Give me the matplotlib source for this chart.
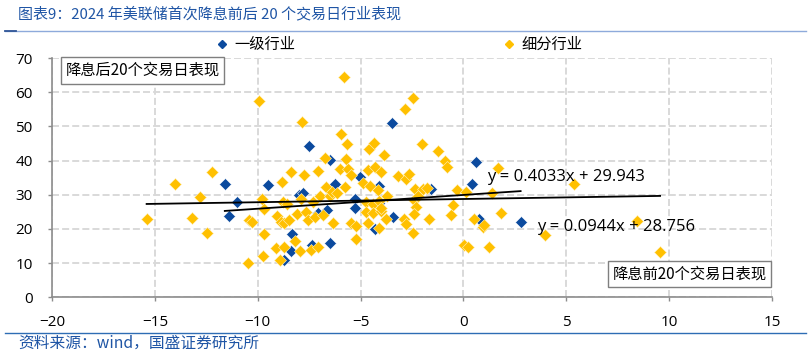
import matplotlib
matplotlib.use("Agg")
import matplotlib.pyplot as plt
import numpy as np
from matplotlib.lines import Line2D

# ---------------- data ----------------
title = "图表9：2024 年美联储首次降息前后 20 个交易日行业表现"
source = "资料来源：wind，国盛证券研究所"
series_names = ["一级行业", "细分行业"]
box_after = "降息后20个交易日表现"
box_before = "降息前20个交易日表现"

level1_x = [-11.6, -11.0, -11.4, -9.5, -8.0, -7.8, -7.5, -6.5, -6.25, -6.65, -7.05, -8.35,
            -8.4, -8.7, -6.5, -7.35, -3.45, -5.05, -4.12, -5.28, -5.25, -3.4, -4.3, -4.08,
            0.62, 0.4, 2.78, 0.78, -1.57]
level1_y = [33.1, 28.0, 23.8, 32.9, 29.9, 30.6, 44.3, 40.1, 33.0, 25.6, 24.7, 18.5,
            13.5, 10.9, 16.0, 15.3, 51.0, 35.3, 32.5, 28.9, 26.1, 23.6, 20.0, 27.7,
            39.6, 33.0, 22.1, 23.0, 31.6]

sub_x = [-15.4, -14.0, -13.2, -12.8, -12.45, -12.2, -10.4, -10.3, -10.47, -9.95,
         -9.8, -9.7, -9.7, -9.74, -9.1, -9.05, -8.93, -8.82, -8.77, -8.6, -8.85, -8.7, -8.5,
         -8.7, -8.4, -8.17, -8.07, -7.96, -7.88, -7.83, -7.75, -7.63, -7.55,
         -7.39, -7.32, -7.23, -7.07, -7.07, -6.99, -6.83, -6.75, -6.7, -6.5, -6.4, -6.34,
         -6.13, -6.02, -5.97, -5.8, -5.78, -5.65, -5.7, -5.6, -5.45, -5.45, -5.2, -5.24,
         -4.89, -4.72, -4.72, -4.64, -4.64, -4.6, -4.56, -4.42, -4.4, -4.35, -4.32, -4.16,
         -4.1, -4.11, -4.03, -3.99, -3.99, -3.86, -3.75, -3.7, -3.2, -2.87, -2.85, -2.8,
         -2.79, -2.64, -2.46, -2.46,
         -2.38, -2.34, -2.3, -2.4, -2.22, -2.0, -1.97, -1.76, -1.65, -1.25, -0.92, -0.81,
         -0.52, -0.6, -0.33,
         0.05, 0.2, 0.12, 0.53, 0.94, 1.02, 1.22, 1.39, 1.67, 1.82, 3.95, 5.39, 8.43, 9.56]
sub_y = [23.0, 33.0, 23.2, 29.4, 18.9, 36.6, 22.5, 21.9, 10.1, 57.4,
         28.9, 25.7, 18.6, 12.1, 14.4, 23.8, 10.9, 33.8, 28.0, 27.4, 22.1, 21.6, 22.6,
         14.8, 36.7, 16.5, 24.4, 13.6, 28.7, 51.2, 35.8, 25.0, 22.6,
         13.7, 27.8, 23.6, 14.8, 37.0, 29.6, 24.1, 40.8, 32.2, 29.6, 30.9, 21.8,
         30.4, 37.5, 47.8, 64.3, 32.3, 44.8, 40.6, 37.4, 35.8, 21.6, 21.0, 17.2,
         33.3, 28.0, 25.0, 37.2, 21.8, 43.5, 32.5, 27.2, 24.6, 45.1, 38.2, 31.4,
         28.3, 20.2, 25.2, 26.0, 36.7, 41.6, 22.8, 29.6, 35.4, 22.8, 55.0, 34.7,
         21.5, 36.2, 58.2, 18.9,
         28.4, 31.6, 26.3, 24.5, 29.6, 44.8, 31.6, 31.9, 22.8, 42.9, 39.9, 38.2,
         26.9, 24.0, 31.4,
         15.3, 14.8, 30.9, 22.8, 20.6, 21.1, 14.8, 30.6, 37.7, 24.7, 18.2, 33.0, 22.4, 13.3]

# trend line coefficients as printed on the chart
level1_fit = (0.4033, 29.943)
sub_fit = (0.0944, 28.756)

x_ticks = [-20, -15, -10, -5, 0, 5, 10, 15]
y_ticks = [0, 10, 20, 30, 40, 50, 60, 70]

# ---------------- style ----------------
BLUE = "#0B4A9E"
YELLOW = "#FFC000"
CJK = ["Noto Sans CJK SC", "DejaVu Sans"]
NUM = ["Open Sans", "DejaVu Sans"]
W, H = 811, 355

fig = plt.figure(figsize=(W / 100, H / 100), dpi=100)
ax = fig.add_axes([52 / W, 1 - 297.3 / H, (772 - 52) / W, (297.3 - 58) / H])

ax.set_xlim(x_ticks[0], x_ticks[-1])
ax.set_ylim(y_ticks[0], y_ticks[-1])
ax.set_xticks(x_ticks)
ax.set_yticks(y_ticks)
ax.grid(True, color="#D9D9D9", lw=1.4, linestyle=(0, (3.6, 1.6)))
ax.set_axisbelow(True)
for s in ["top", "right"]:
    ax.spines[s].set_visible(False)
for s in ["left", "bottom"]:
    ax.spines[s].set_color("#8C8C8C")
    ax.spines[s].set_linewidth(1.2)
ax.tick_params(axis="both", length=3, color="#8C8C8C", width=1.0)
ax.tick_params(axis="y", pad=11)
ax.tick_params(axis="x", pad=10)
for lab in ax.get_xticklabels() + ax.get_yticklabels():
    lab.set_fontfamily(NUM)
    lab.set_fontsize(11)
    lab.set_color("#000000")

ms = 5.9
ax.plot(level1_x, level1_y, linestyle="none", marker="D", ms=ms, mfc=BLUE,
        mec="white", mew=0.4, zorder=3)
ax.plot(sub_x, sub_y, linestyle="none", marker="D", ms=ms, mfc=YELLOW,
        mec="#FFF2C0", mew=0.4, zorder=3)

# trend lines over each series' x range
for xs, (k, b) in [(sub_x, sub_fit), (level1_x, level1_fit)]:
    xx = np.array([min(xs), max(xs)])
    ax.plot(xx, k * xx + b, color="black", lw=1.3, zorder=4)

ax.text(1.17, 35.3, f"y = {level1_fit[0]}x + {level1_fit[1]}", fontsize=12,
        family=NUM, va="center", ha="left", zorder=5)
ax.text(3.56, 20.6, f"y = {sub_fit[0]}x + {sub_fit[1]}", fontsize=12,
        family=NUM, va="center", ha="left", zorder=5)

# boxed labels
bbox = dict(boxstyle="square,pad=0.32", fc="white", ec="#7F7F7F", lw=1.0)
fig.text(142.5 / W, 1 - 70.5 / H, box_after, fontsize=11, family=CJK,
         ha="center", va="center", bbox=bbox, zorder=6)
fig.text(689.5 / W, 1 - 274 / H, box_before, fontsize=11, family=CJK,
         ha="center", va="center", bbox=bbox, zorder=6)

# legend
handles = [Line2D([], [], linestyle="none", marker="D", ms=4.2, mfc=BLUE, mec=BLUE),
           Line2D([], [], linestyle="none", marker="D", ms=4.2, mfc=YELLOW, mec=YELLOW)]
leg = fig.legend(handles, series_names, loc="center left",
                 bbox_to_anchor=(216 / W, 1 - 44.5 / H), ncol=2, frameon=False,
                 handlelength=0.8, handletextpad=0.4, columnspacing=13.6,
                 prop={"family": CJK, "size": 11}, borderaxespad=0, borderpad=0)

# title, rules, source
fig.text(18 / W, 1 - 14 / H, title, fontsize=10.8, family=CJK, style="italic",
         color="#1F55A5", ha="left", va="center")
fig.add_artist(Line2D([5 / W, 806 / W], [1 - 31 / H, 1 - 31 / H], color="#8EAADB",
                      lw=1.0, transform=fig.transFigure))
fig.add_artist(Line2D([5 / W, 16 / W], [1 - 31 / H, 1 - 31 / H], color="#2F5597",
                      lw=1.3, transform=fig.transFigure))
fig.add_artist(Line2D([5 / W, 806 / W], [1 - 332.5 / H, 1 - 332.5 / H], color="#2E6DB4",
                      lw=1.0, transform=fig.transFigure))
fig.text(18 / W, 1 - 343.5 / H, source, fontsize=11.3, family=CJK, style="italic",
         color="#1F55A5", ha="left", va="center")

fig.savefig("out.png", dpi=100)
